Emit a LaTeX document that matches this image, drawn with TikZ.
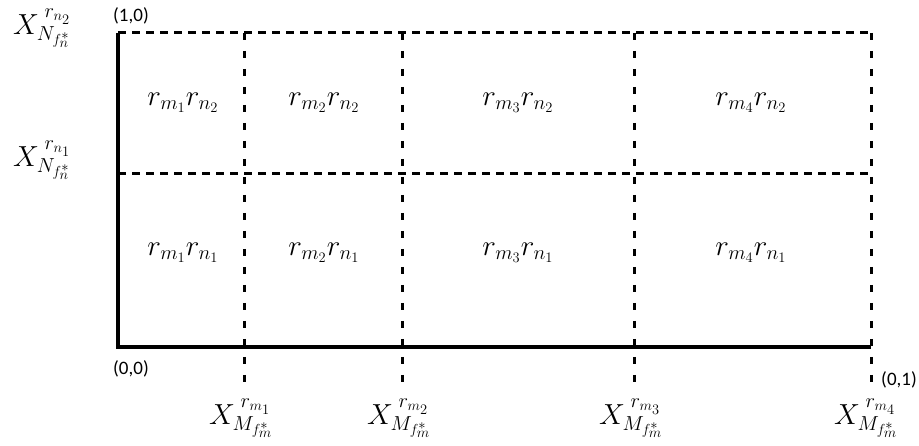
\documentclass[tikz,border=0pt]{standalone}
\usepackage{fix-cm}
\usepackage{fontspec}
\newfontfamily\lblfont{Carlito}
\begin{document}
\begin{tikzpicture}[x=1pt,y=-1pt,
  axis/.style={line width=3.4pt},
  hdash/.style={line width=3pt, dash pattern=on 8pt off 6pt},
  vdash/.style={line width=3pt, dash pattern=on 7pt off 11pt},
  cell/.style={font=\fontsize{29}{34}\selectfont},
  side/.style={font=\fontsize{29}{34}\selectfont},
  coordlbl/.style={font=\lblfont\fontsize{19}{22}\selectfont}]
\useasboundingbox (0,0) rectangle (919,446);
% coordinates
\coordinate (O) at (118,347);
\coordinate (T) at (118,33);
\coordinate (M) at (118,174);
\coordinate (R) at (871,347);
\coordinate (TR) at (871,33);
\coordinate (MR) at (871,174);
\foreach \n/\x in {a/244,b/402,c/634,d/871}{
  \coordinate (\n top) at (\x,33);
  \coordinate (\n bot) at (\x,386);
}
% dashed grid
\draw[hdash] (T) -- (TR);
\draw[hdash] (M) -- (MR);
\foreach \n in {a,b,c,d}{\draw[vdash] (\n top) -- (\n bot);}
% axes
\draw[axis] (T) -- (O) -- (R);
% coordinate labels
\node[coordlbl] (l10) at (131,16) {(1,0)};
\node[coordlbl] (l00) at (131,369) {(0,0)};
\node[coordlbl] (l01) at (899,380) {(0,1)};
% side labels
\node[side] (n2) at (42,28) {$X_{N_{f_n^*}}^{\;r_{n_2}}$};
\node[side] (n1) at (42,160) {$X_{N_{f_n^*}}^{\;r_{n_1}}$};
\node[side] (m1) at (241,418) {$X_{M_{f_m^*}}^{\;r_{m_1}}$};
\node[side] (m2) at (399,418) {$X_{M_{f_m^*}}^{\;r_{m_2}}$};
\node[side] (m3) at (631,418) {$X_{M_{f_m^*}}^{\;r_{m_3}}$};
\node[side] (m4) at (866,418) {$X_{M_{f_m^*}}^{\;r_{m_4}}$};
% cells
\node[cell] (c12) at (183,103) {$r_{m_1}r_{n_2}$};
\node[cell] (c22) at (324,103) {$r_{m_2}r_{n_2}$};
\node[cell] (c32) at (518,103) {$r_{m_3}r_{n_2}$};
\node[cell] (c42) at (751,103) {$r_{m_4}r_{n_2}$};
\node[cell] (c11) at (183,253) {$r_{m_1}r_{n_1}$};
\node[cell] (c21) at (324,253) {$r_{m_2}r_{n_1}$};
\node[cell] (c31) at (518,253) {$r_{m_3}r_{n_1}$};
\node[cell] (c41) at (751,253) {$r_{m_4}r_{n_1}$};
\end{tikzpicture}
\end{document}
